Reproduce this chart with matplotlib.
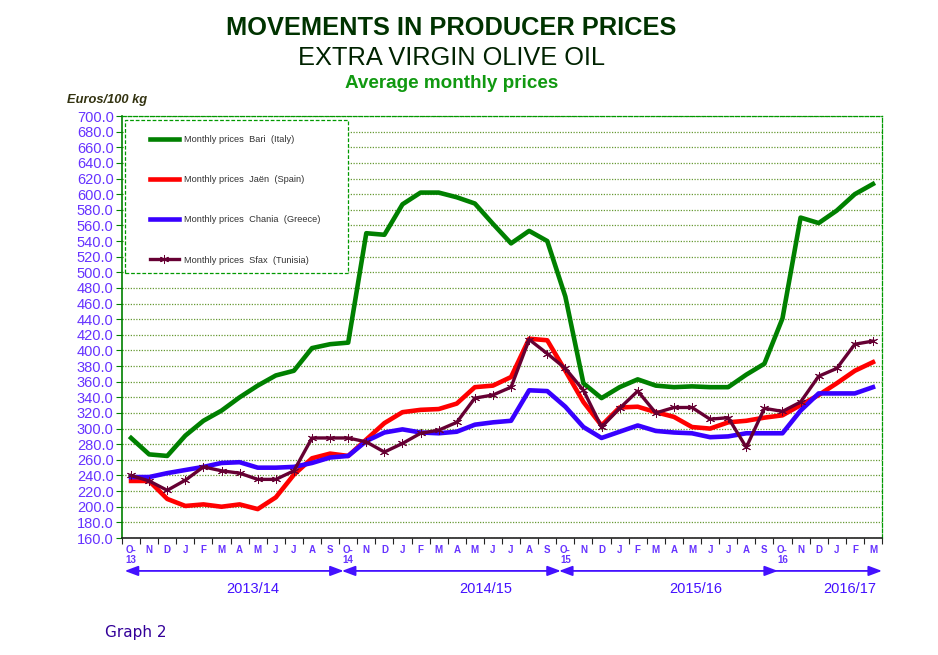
import numpy as np
import matplotlib
matplotlib.use("Agg")
import matplotlib.pyplot as plt
from matplotlib.patches import Rectangle

plt.rcParams['font.family'] = ['Liberation Sans', 'DejaVu Sans']

# month labels, Oct 2013 .. Mar 2017
months = ['O-\n13', 'N', 'D', 'J', 'F', 'M', 'A', 'M', 'J', 'J', 'A', 'S',
          'O-\n14', 'N', 'D', 'J', 'F', 'M', 'A', 'M', 'J', 'J', 'A', 'S',
          'O-\n15', 'N', 'D', 'J', 'F', 'M', 'A', 'M', 'J', 'J', 'A', 'S',
          'O-\n16', 'N', 'D', 'J', 'F', 'M']

bari = [288, 267, 265, 291, 310, 323, 340, 355, 368, 374, 403, 408,
        410, 550, 548, 587, 602, 602, 596, 588, 562, 537, 553, 540,
        469, 358, 339, 353, 363, 355, 353, 354, 353, 353, 369, 383,
        441, 570, 563, 579, 600, 613]
jaen = [233, 233, 210, 201, 203, 200, 203, 197, 212, 241, 262, 268,
        265, 286, 307, 321, 324, 325, 332, 353, 355, 366, 415, 413,
        374, 334, 304, 327, 328, 321, 315, 302, 300, 308, 310, 314,
        317, 330, 343, 358, 374, 385]
chania = [238, 238, 243, 247, 251, 256, 257, 250, 250, 251, 256, 263,
          265, 284, 295, 299, 295, 294, 296, 305, 308, 310, 349, 348,
          328, 302, 288, 296, 304, 297, 295, 294, 289, 290, 294, 294,
          294, 323, 345, 345, 345, 353]
sfax = [240, 233, 221, 234, 251, 246, 243, 235, 235, 246, 288, 288,
        288, 283, 270, 281, 294, 298, 308, 339, 343, 353, 414, 396,
        377, 349, 302, 326, 348, 320, 327, 327, 312, 314, 276, 326,
        322, 334, 367, 377, 408, 412]

seasons = ['2013/14', '2014/15', '2015/16', '2016/17']
season_start = [0, 12, 24, 36]
season_end = [11, 23, 35, 41]

# where the season names sit (in month units)
season_label_x = [6.7, 19.6, 31.2, 39.7]

x = np.arange(len(months))

fig = plt.figure(figsize=(9.38, 6.55), dpi=100)
ax = fig.add_axes([122/938, 1-538/655, 760/938, 422/655])

ax.plot(x, bari, color='#008000', lw=3.3, label='Monthly prices  Bari  (Italy)', zorder=3)
ax.plot(x, jaen, color='#FF0000', lw=3.3, label='Monthly prices  Jaën  (Spain)', zorder=3)
ax.plot(x, chania, color='#3800FF', lw=3.3, label='Monthly prices  Chania  (Greece)', zorder=3)
ax.plot(x, sfax, color='#660033', lw=2.4, marker=(6, 2, 0), ms=6.5, mew=0.7,
        label='Monthly prices  Sfax  (Tunisia)', zorder=4)

ax.set_xlim(-0.5, len(months)-0.5)
ax.set_ylim(160, 700)
ax.set_yticks(np.arange(160, 701, 20))
ax.set_yticklabels(['%.1f' % v for v in np.arange(160, 701, 20)])
ax.yaxis.grid(True, color='#669933', ls=(0, (1, 1.2)), lw=0.9)
ax.set_axisbelow(True)

ax.set_xticks(np.arange(len(months)+1) - 0.5)
ax.set_xticklabels([])
ax.set_xticks(x, minor=True)
ax.set_xticklabels(months, minor=True, fontsize=7, color='#6633FF',
                   linespacing=1.05, va='top')
ax.tick_params(axis='x', which='major', length=4, color='#222222')
ax.tick_params(axis='x', which='minor', length=0, pad=5)
ax.tick_params(axis='y', length=4, color='#008000', labelsize=10.5,
               labelcolor='#6633FF', pad=2)
for lab in ax.get_xticklabels(minor=True):
    lab.set_fontweight('bold')

for s in ['top', 'right']:
    ax.spines[s].set_color('#009900')
    ax.spines[s].set_linestyle((0, (3, 1.5)))
    ax.spines[s].set_linewidth(0.9)
ax.spines['left'].set_color('#008000')
ax.spines['left'].set_linewidth(1.2)
ax.spines['bottom'].set_color('#222222')
ax.spines['bottom'].set_linewidth(1.2)

# season arrows under the axis
tr = ax.get_xaxis_transform()
for name, a, b, lx in zip(seasons, season_start, season_end, season_label_x):
    left = a - 0.35
    if name == seasons[-1]:
        right = b + 0.5
        style = '-|>'
    else:
        right = b + 0.75
        style = '<|-|>'
    ax.annotate('', xy=(right, -0.078), xytext=(left, -0.078), xycoords=tr,
                textcoords=tr, annotation_clip=False,
                arrowprops=dict(arrowstyle=style + ',head_length=0.8,head_width=0.3',
                                color='#4411FF', lw=1.3, shrinkA=0, shrinkB=0))
    ax.text(lx, -0.105, name, transform=tr, ha='center', va='top',
            fontsize=10.5, color='#4411FF')

# legend: dashed box drawn separately, entries placed inside it
ax.add_patch(Rectangle((3/760, 265/422), 223/760, 153/422, transform=ax.transAxes,
                       fill=True, facecolor='white', edgecolor='#009900',
                       ls=(0, (3, 1.5)), lw=0.9, zorder=5))
leg = ax.legend(loc='upper left', bbox_to_anchor=(28/760, 403/422),
                fontsize=6.7, frameon=False, labelspacing=3.35,
                handlelength=3.1, handletextpad=0.5, borderpad=0, borderaxespad=0)
leg.set_zorder(6)
for t in leg.get_texts():
    t.set_color('#333333')

fig.text(0.481, 1-28/655, 'MOVEMENTS IN PRODUCER PRICES', ha='center', va='center',
         fontsize=18.3, fontweight='bold', color='#003300')
fig.text(0.481, 1-58/655, 'EXTRA VIRGIN OLIVE OIL', ha='center', va='center',
         fontsize=18.3, color='#002200')
fig.text(0.481, 1-84/655, 'Average monthly prices', ha='center', va='center',
         fontsize=13.6, fontweight='bold', color='#119911')
fig.text(67/938, 1-100/655, 'Euros/100 kg', ha='left', va='center', fontsize=9.3,
         fontweight='bold', fontstyle='italic', color='#333311')
fig.text(105/938, 1-632/655, 'Graph 2', ha='left', va='center', fontsize=11,
         color='#330099', family='DejaVu Sans')

fig.savefig('out.png', dpi=100)
